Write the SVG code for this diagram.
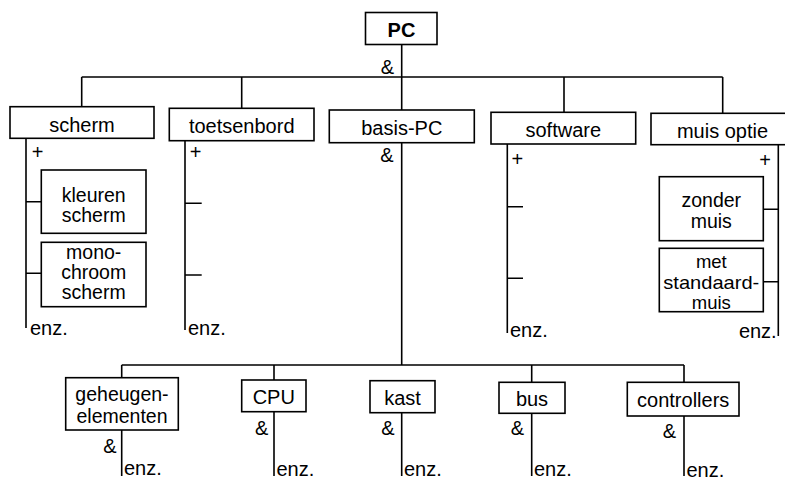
<svg xmlns="http://www.w3.org/2000/svg" width="785" height="480" viewBox="0 0 785 480">
<style>
text{font-family:"Liberation Sans",Arial,sans-serif;font-size:20px;fill:#000}
.c{text-anchor:middle}
.r{text-anchor:end}
.b{font-weight:bold}
.m{font-size:19.5px}
.s{font-size:18.5px}
rect{fill:#fff;stroke:#000;stroke-width:1.6}
.ln{stroke:#000;stroke-width:1.6;fill:none}
</style>
<rect x="0" y="0" width="785" height="480" style="fill:#fff;stroke:none"/>
<g id="connectors" class="ln">
<path d="M401.7 44 V77 M81.7 77 H722.7 M81.7 77 V107 M241.7 77 V108 M401.7 77 V110 M564 77 V112 M722.7 77 V113"/>
<path d="M26 138 V328 M26 201.7 H41.3 M26 273.3 H41.3"/>
<path d="M185 140.7 V330 M185 203.3 H201.7 M185 275 H201.7"/>
<path d="M507.3 144 V333 M507.3 206.7 H523 M507.3 278.3 H523"/>
<path d="M778.3 144.7 V336 M763.3 209.3 H778.3 M763.3 281.7 H778.3"/>
<path d="M401.7 142.7 V365 M121.7 365 H684 M121.7 365 V377.7 M274 365 V380 M531.7 365 V382.3 M684 365 V382.3"/>
<path d="M121.7 430 V476 M274 411.7 V476 M401.7 412.7 V476 M531.7 413.3 V476 M684 416 V476"/>
</g>
<g id="pc"><rect x="365.5" y="12.5" width="71.5" height="32"/><text class="c b" x="401.5" y="36.5">PC</text></g>
<text class="c" x="387.5" y="73.5">&amp;</text>
<g id="scherm"><rect x="10" y="106.7" width="144" height="31.6"/><text class="c" x="82" y="131.5">scherm</text></g>
<text class="c" x="37.7" y="159">+</text>
<g id="kleuren"><rect x="41.3" y="170" width="104.7" height="63.3"/><text class="c m" x="93.7" y="201.5">kleuren</text><text class="c m" x="93.7" y="221.5">scherm</text></g>
<g id="mono"><rect x="41.3" y="242.3" width="104.7" height="64.4"/><text class="c m" x="93.7" y="258.5">mono-</text><text class="c m" x="93.7" y="278.5">chroom</text><text class="c m" x="93.7" y="298.5">scherm</text></g>
<text x="30" y="335">enz.</text>
<g id="toetsenbord"><rect x="169.3" y="108.3" width="144.7" height="32.4"/><text class="c" x="241.7" y="133.3">toetsenbord</text></g>
<text class="c" x="195.7" y="159">+</text>
<text x="188" y="335">enz.</text>
<g id="basis-pc"><rect x="329.3" y="110" width="145" height="32.7"/><text class="c" x="401.8" y="135">basis-PC</text></g>
<text class="c" x="387" y="162">&amp;</text>
<g id="software"><rect x="491" y="112.3" width="144.7" height="31.7"/><text class="c" x="563.3" y="136.7">software</text></g>
<text class="c" x="517.3" y="166">+</text>
<text x="510" y="337">enz.</text>
<g id="muis-optie"><rect x="651" y="113.3" width="140" height="31.4"/><text class="c" x="722.5" y="137.5">muis optie</text></g>
<text class="c" x="765" y="167">+</text>
<g id="zonder-muis"><rect x="659.3" y="176.7" width="104" height="64"/><text class="c m" x="711.3" y="206.7">zonder</text><text class="c m" x="711.3" y="228.3">muis</text></g>
<g id="met-muis"><rect x="659.3" y="248.3" width="104" height="63.4"/><text class="c s" x="711.3" y="267.5">met</text><text class="c s" x="711.3" y="288.5" textLength="96" lengthAdjust="spacingAndGlyphs">standaard-</text><text class="c s" x="711.3" y="309">muis</text></g>
<text class="r" x="776.7" y="338">enz.</text>
<g id="geheugen"><rect x="65.7" y="377.7" width="112.6" height="52.3"/><text class="c m" x="122" y="401">geheugen-</text><text class="c m" x="122" y="423">elementen</text></g>
<text class="c" x="110" y="453">&amp;</text>
<text x="124" y="475">enz.</text>
<g id="cpu"><rect x="241.7" y="380" width="64.3" height="31.7"/><text class="c" x="273.8" y="403.5">CPU</text></g>
<text class="c" x="261.7" y="434.5">&amp;</text>
<text x="276.5" y="476">enz.</text>
<g id="kast"><rect x="370" y="380.7" width="65" height="32"/><text class="c" x="402.5" y="404.5">kast</text></g>
<text class="c" x="388" y="434.5">&amp;</text>
<text x="404" y="476">enz.</text>
<g id="bus"><rect x="499" y="382.3" width="66" height="31"/><text class="c" x="532" y="405.5">bus</text></g>
<text class="c" x="517.3" y="434.5">&amp;</text>
<text x="534" y="476">enz.</text>
<g id="controllers"><rect x="627.3" y="382.3" width="111.7" height="33.7"/><text class="c" x="683.2" y="407">controllers</text></g>
<text class="c" x="669.3" y="438">&amp;</text>
<text x="686.5" y="477">enz.</text>
</svg>
